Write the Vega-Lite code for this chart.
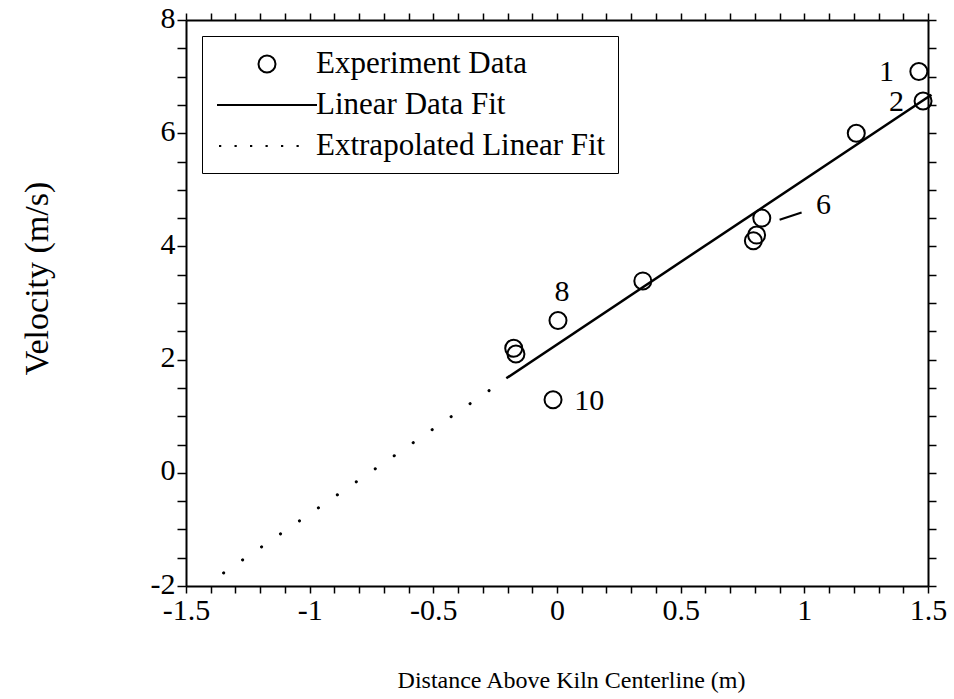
{
  "$schema": "https://vega.github.io/schema/vega-lite/v6.json",
  "width": 742,
  "height": 566,
  "autosize": {"type": "none"},
  "padding": {"left": 186, "top": 20, "right": 26, "bottom": 113},
  "background": "white",
  "config": {
    "font": "Liberation Serif",
    "view": {"stroke": null},
    "axis": {
      "labelFont": "Liberation Serif",
      "titleFont": "Liberation Serif",
      "labelColor": "black",
      "titleColor": "black",
      "domainColor": "black",
      "tickColor": "black",
      "domainWidth": 2,
      "tickWidth": 1.5,
      "grid": false,
      "labelFontSize": 30,
      "titleFontWeight": "normal",
      "labelFlush": false,
      "labelOverlap": false
    }
  },
  "datasets": {
    "points": [
      {"distance": 1.463, "velocity": 7.09, "series": "Experiment Data"},
      {"distance": 1.480, "velocity": 6.57, "series": "Experiment Data"},
      {"distance": 1.210, "velocity": 6.00, "series": "Experiment Data"},
      {"distance": 0.828, "velocity": 4.50, "series": "Experiment Data"},
      {"distance": 0.807, "velocity": 4.20, "series": "Experiment Data"},
      {"distance": 0.794, "velocity": 4.10, "series": "Experiment Data"},
      {"distance": 0.347, "velocity": 3.39, "series": "Experiment Data"},
      {"distance": 0.004, "velocity": 2.69, "series": "Experiment Data"},
      {"distance": -0.175, "velocity": 2.20, "series": "Experiment Data"},
      {"distance": -0.166, "velocity": 2.10, "series": "Experiment Data"},
      {"distance": -0.016, "velocity": 1.29, "series": "Experiment Data"}
    ],
    "fit": [
      {"distance": -0.205, "velocity": 1.67},
      {"distance": 1.514, "velocity": 6.68}
    ],
    "extrap": [
      {"distance": -1.348, "velocity": -1.77},
      {"distance": -0.202, "velocity": 1.67}
    ],
    "labels": [
      {"distance": 1.332, "velocity": 7.08, "text": "1"},
      {"distance": 1.373, "velocity": 6.56, "text": "2"},
      {"distance": 1.077, "velocity": 4.73, "text": "6"},
      {"distance": 0.02, "velocity": 3.19, "text": "8"},
      {"distance": 0.13, "velocity": 1.26, "text": "10"}
    ],
    "leader": [
      {"distance": 0.900, "velocity": 4.47, "distance2": 0.989, "velocity2": 4.60}
    ]
  },
  "layer": [
    {
      "data": {"name": "points"},
      "mark": {"type": "point", "filled": false, "stroke": "black", "strokeWidth": 2, "size": 900, "opacity": 1},
      "encoding": {
        "x": {
          "field": "distance", "type": "quantitative",
          "scale": {"domain": [-1.5, 1.5], "nice": false, "zero": false},
          "axis": {
            "orient": "bottom",
            "values": [-1.5, -1.4, -1.3, -1.2, -1.1, -1, -0.9, -0.8, -0.7, -0.6, -0.5, -0.4, -0.3, -0.2, -0.1, 0, 0.1, 0.2, 0.3, 0.4, 0.5, 0.6, 0.7, 0.8, 0.9, 1, 1.1, 1.2, 1.3, 1.4, 1.5],
            "labelExpr": "abs(datum.value * 2 - round(datum.value * 2)) < 0.000001 ? '' + datum.value : ''",
            "title": "Distance Above Kiln Centerline (m)",
            "titleFontSize": 24,
            "titlePadding": 43,
            "titleX": 385,
            "tickSize": 7,
            "labelPadding": 2
          }
        },
        "y": {
          "field": "velocity", "type": "quantitative",
          "scale": {"domain": [-2, 8], "nice": false, "zero": false},
          "axis": {
            "orient": "left",
            "values": [-2, -1.5, -1, -0.5, 0, 0.5, 1, 1.5, 2, 2.5, 3, 3.5, 4, 4.5, 5, 5.5, 6, 6.5, 7, 7.5, 8],
            "labelExpr": "datum.value % 2 === 0 ? '' + datum.value : ''",
            "title": "Velocity (m/s)",
            "titleFontSize": 34,
            "titlePadding": 96,
            "titleY": 258,
            "tickSize": 9,
            "labelPadding": 2,
            "labelOffset": -2
          }
        },
        "shape": {
          "field": "series", "type": "nominal",
          "scale": {
            "domain": ["Experiment Data", "Linear Data Fit", "Extrapolated Linear Fit"],
            "range": [
              "M-0.567,0A0.567,0.567,0,1,0,0.567,0A0.567,0.567,0,1,0,-0.567,0Z",
              "M-3.333,0H3.333",
              "M-3.2,0h0.15M-2.167,0h0.15M-1.133,0h0.15M-0.1,0h0.15M0.933,0h0.15M1.967,0h0.15"
            ]
          },
          "legend": {
            "title": null,
            "orient": "top-left",
            "offset": 16,
            "padding": 12,
            "strokeColor": "black",
            "fillColor": "white",
            "cornerRadius": 0,
            "labelFont": "Liberation Serif",
            "labelFontSize": 31,
            "labelColor": "black",
            "labelLimit": 600,
            "symbolSize": 900,
            "symbolStrokeWidth": 2,
            "symbolStrokeColor": "black",
            "symbolOffset": 37,
            "labelOffset": 33,
            "rowPadding": 10,
            "encode": {
              "legend": {"update": {"strokeWidth": {"value": 4}}}
            }
          }
        }
      }
    },
    {
      "data": {"name": "fit"},
      "mark": {"type": "line", "color": "black", "strokeWidth": 2.5},
      "encoding": {
        "x": {
          "field": "distance", "type": "quantitative",
          "axis": {
            "orient": "top",
            "values": [-1.5, -1.4, -1.3, -1.2, -1.1, -1, -0.9, -0.8, -0.7, -0.6, -0.5, -0.4, -0.3, -0.2, -0.1, 0, 0.1, 0.2, 0.3, 0.4, 0.5, 0.6, 0.7, 0.8, 0.9, 1, 1.1, 1.2, 1.3, 1.4, 1.5],
            "labels": false,
            "title": null,
            "tickSize": 7
          }
        },
        "y": {
          "field": "velocity", "type": "quantitative",
          "axis": {
            "orient": "right",
            "values": [-2, -1.5, -1, -0.5, 0, 0.5, 1, 1.5, 2, 2.5, 3, 3.5, 4, 4.5, 5, 5.5, 6, 6.5, 7, 7.5, 8],
            "labels": false,
            "title": null,
            "tickSize": 8
          }
        }
      }
    },
    {
      "data": {"name": "extrap"},
      "mark": {"type": "line", "color": "black", "strokeWidth": 3, "strokeCap": "round", "strokeDash": [0.1, 22.9]},
      "encoding": {
        "x": {"field": "distance", "type": "quantitative", "axis": null},
        "y": {"field": "velocity", "type": "quantitative", "axis": null}
      }
    },
    {
      "data": {"name": "labels"},
      "mark": {"type": "text", "font": "Liberation Serif", "fontSize": 30, "color": "black", "align": "center", "baseline": "middle"},
      "encoding": {
        "x": {"field": "distance", "type": "quantitative", "axis": null},
        "y": {"field": "velocity", "type": "quantitative", "axis": null},
        "text": {"field": "text"}
      }
    },
    {
      "data": {"name": "leader"},
      "mark": {"type": "rule", "color": "black", "strokeWidth": 2},
      "encoding": {
        "x": {"field": "distance", "type": "quantitative", "axis": null},
        "y": {"field": "velocity", "type": "quantitative", "axis": null},
        "x2": {"field": "distance2"},
        "y2": {"field": "velocity2"}
      }
    }
  ],
  "resolve": {"axis": {"x": "independent", "y": "independent"}}
}
